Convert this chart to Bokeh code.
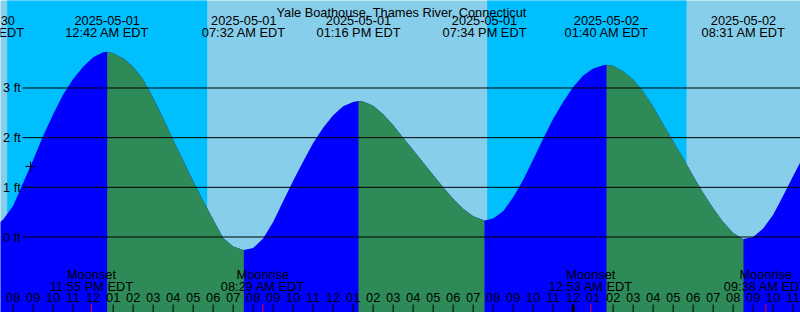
import math
import pandas as pd
from bokeh.plotting import figure
from bokeh.models import Range1d, ColumnDataSource, LabelSet, Label
from bokeh.core.properties import value
from bokeh.embed import file_html
from bokeh.resources import INLINE

# ---------------- data ----------------
title_text = "Yale Boathouse, Thames River, Connecticut"
view_start = "2025-04-30 19:22"
view_end = "2025-05-02 11:22"

# tide extremes (high / low)
tide_times = ["2025-04-30 18:27", "2025-05-01 00:42", "2025-05-01 07:32",
              "2025-05-01 13:16", "2025-05-01 19:34", "2025-05-02 01:40",
              "2025-05-02 08:31"]
tide_heights = [0.14, 3.73, -0.26, 2.74, 0.33, 3.47, -0.04]

# water level every half hour (ft), from curve_start
curve_start = "2025-04-30 18:30"
curve_heights = [
    0.14, 0.19, 0.35, 0.63, 1.09, 1.55, 2.04, 2.47, 2.87, 3.18, 3.43,
    3.62, 3.72, 3.70, 3.60, 3.43, 3.17, 2.80, 2.39, 1.96, 1.54, 1.12,
    0.73, 0.35, -0.02, -0.19, -0.26, -0.22, -0.03, 0.30, 0.72, 1.13,
    1.52, 1.89, 2.20, 2.45, 2.63, 2.72, 2.73, 2.64, 2.47, 2.25, 2.00,
    1.75, 1.50, 1.25, 1.00, 0.77, 0.57, 0.42, 0.34, 0.37, 0.52, 0.80,
    1.15, 1.56, 1.98, 2.38, 2.72, 3.02, 3.25, 3.39, 3.46, 3.45, 3.33,
    3.17, 2.93, 2.62, 2.27, 1.93, 1.59, 1.23, 0.89, 0.58, 0.30, 0.08,
    -0.04, 0.00, 0.17, 0.45, 0.83, 1.23, 1.62,
]

sun_times = ["2025-04-30 19:42", "2025-05-01 05:42", "2025-05-01 19:42", "2025-05-02 05:40"]
sun_kinds = ["sunset", "sunrise", "sunset", "sunrise"]

moon_times = ["2025-04-30 23:55", "2025-05-01 08:29", "2025-05-02 00:53", "2025-05-02 09:38"]
moon_kinds = ["Moonset", "Moonrise", "Moonset", "Moonrise"]

day_marks = ["2025-05-02 00:00"]
mark_time = "2025-04-30 20:52"
mark_height = 1.42
level_values = [0, 1, 2, 3]
level_labels = ["0 ft", "1 ft", "2 ft", "3 ft"]

# ---------------- helpers ----------------
W, H = 800, 312
T0 = pd.Timestamp("2025-05-01 00:00")


def hrs(t):
    return (pd.Timestamp(t) - T0) / pd.Timedelta(hours=1)


X0, X1 = hrs(view_start), hrs(view_end)
PXH = W / (X1 - X0)
ZERO_PX = 236.5
PXF = 49.67


def ft(ypx):
    return (ZERO_PX - ypx) / PXF


Y0, Y1 = ft(H), ft(0)
FONT = value("Liberation Sans")
FS = "12.8px"

BLUE = "#0000FF"
GREEN = "#2E8B57"
DAY = "#87CEEB"
NIGHT = "#00BFFF"

p = figure(width=W, height=H, min_border=0, toolbar_location=None,
           output_backend="svg", x_range=Range1d(X0, X1), y_range=Range1d(Y0, Y1),
           x_axis_type=None, y_axis_type=None)
p.grid.visible = False
p.outline_line_color = None
p.background_fill_color = DAY
p.border_fill_color = DAY

# night bands
sun_h = [hrs(t) for t in sun_times]
bounds = [X0 - 2] + sun_h + [X1 + 2]
kinds = ["sunrise" if sun_kinds[0] == "sunset" else "sunset"] + sun_kinds
nl, nr = [], []
for i in range(len(bounds) - 1):
    if kinds[i] == "sunset":
        nl.append(bounds[i])
        nr.append(bounds[i + 1])
p.quad(left=nl, right=nr, bottom=Y0 - 1, top=Y1 + 1, fill_color=NIGHT, line_color=None)

# tide curve
ct = pd.date_range(curve_start, periods=len(curve_heights), freq="30min")
df = pd.DataFrame({"h": [hrs(t) for t in ct], "ft": curve_heights})
ex = pd.DataFrame({"h": [hrs(t) for t in tide_times], "ft": tide_heights})
df = pd.concat([df, ex]).sort_values("h").drop_duplicates("h").reset_index(drop=True)

p.varea(x=df.h, y1=Y0 - 1, y2=df.ft, fill_color=BLUE)
eh = list(ex.h)
for i in range(len(eh) - 1):
    if tide_heights[i + 1] < tide_heights[i]:
        seg = df[(df.h >= eh[i]) & (df.h <= eh[i + 1])]
        p.varea(x=seg.h, y1=Y0 - 1, y2=seg.ft, fill_color=GREEN)

# level lines and labels
gx0 = X0 + 22 / PXH
p.segment(x0=[gx0] * len(level_values), y0=level_values, x1=[X1 + 1] * len(level_values),
          y1=level_values, line_color="black", line_width=1)
lsrc = ColumnDataSource(dict(x=[2.5] * len(level_values), y=level_values, t=level_labels))
p.add_layout(LabelSet(x="x", y="y", text="t", source=lsrc, x_units="screen",
                      text_font=FONT, text_font_size=FS, text_color="black",
                      text_align="left", text_baseline="middle"))

# hour ticks (an hour tick is replaced by a moon tick lying within 15 minutes)
mh = [hrs(t) for t in moon_times]
hours = list(range(math.ceil(X0), math.floor(X1) + 1))
hl = [(T0 + pd.Timedelta(hours=h)).strftime("%I") for h in hours]
tick_h = [h for h in hours if min(abs(h - m) for m in mh) > 0.25]
p.segment(x0=tick_h, y0=ft(304), x1=tick_h, y1=ft(313), line_color="black", line_width=1)
dm = [hrs(t) for t in day_marks]
p.segment(x0=dm, y0=ft(304), x1=dm, y1=ft(313), line_color="black", line_width=3)
p.segment(x0=mh, y0=ft(304), x1=mh, y1=ft(313), line_color="#FF0000", line_width=1)

hsrc = ColumnDataSource(dict(x=hours, y=[H - 301.7] * len(hours), t=hl))
p.add_layout(LabelSet(x="x", y="y", text="t", source=hsrc, y_units="screen",
                      text_font=FONT, text_font_size=FS, text_color="black",
                      text_align="center", text_baseline="alphabetic"))

# moon labels
msrc = ColumnDataSource(dict(
    x=mh, y1=[H - 278.3] * len(mh), y2=[H - 290] * len(mh), k=moon_kinds,
    t=[pd.Timestamp(t).strftime("%I:%M %p EDT") for t in moon_times]))
for yy, tt in (("y1", "k"), ("y2", "t")):
    p.add_layout(LabelSet(x="x", y=yy, text=tt, source=msrc, y_units="screen",
                          text_font=FONT, text_font_size=FS, text_color="black",
                          text_align="center", text_baseline="alphabetic"))

# tide event labels (top)
tsrc = ColumnDataSource(dict(
    x=list(ex.h), y1=[H - 24] * len(eh), y2=[H - 36.7] * len(eh),
    d=[pd.Timestamp(t).strftime("%Y-%m-%d") for t in tide_times],
    t=[pd.Timestamp(t).strftime("%I:%M %p EDT") for t in tide_times]))
for yy, tt in (("y1", "d"), ("y2", "t")):
    p.add_layout(LabelSet(x="x", y=yy, text=tt, source=tsrc, y_units="screen",
                          text_font=FONT, text_font_size=FS, text_color="black",
                          text_align="center", text_baseline="alphabetic"))

# now mark
p.scatter(x=[hrs(mark_time)], y=[mark_height], marker="cross", size=10,
          line_color="black", line_width=1)

# title
p.add_layout(Label(x=401, y=H - 11.7, x_units="screen", y_units="screen", text=title_text,
                   text_font="Liberation Sans", text_font_size=FS, text_color="black",
                   text_align="center", text_baseline="alphabetic"))

open("out.html", "w").write(file_html(p, INLINE))
